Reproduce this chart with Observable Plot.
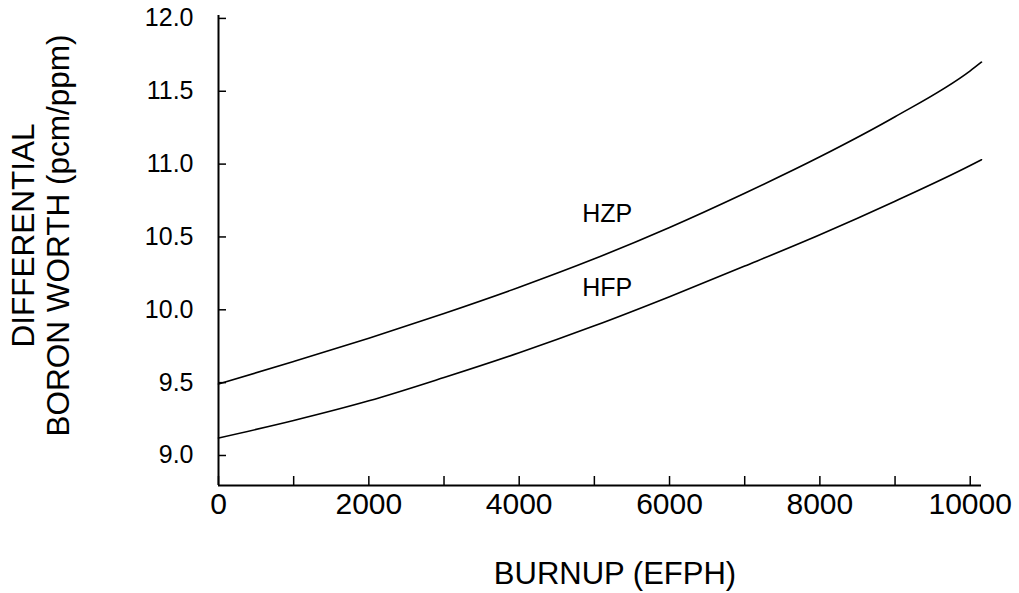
<!DOCTYPE html>
<html><head><meta charset="utf-8">
<script src="https://cdn.jsdelivr.net/npm/d3@7"></script>
<script src="https://cdn.jsdelivr.net/npm/@observablehq/plot@0.6"></script>
<style>body{margin:0;background:#fff}</style>
</head><body><div id="chart"></div>
<script>
// Data
const burnup = [0, 1000, 2000, 3000, 4000, 5000, 6000, 7000, 8000, 9000, 10000, 10150];
const hzp    = [9.49, 9.645, 9.805, 9.975, 10.155, 10.35, 10.565, 10.80, 11.05, 11.325, 11.64, 11.70];
const hfp    = [9.12, 9.24, 9.375, 9.535, 9.705, 9.89, 10.09, 10.30, 10.515, 10.745, 10.99, 11.03];
const seriesNames = ["HZP", "HFP"];
const seriesLabelX = [5170, 5170];
const seriesLabelY = [10.66, 10.15];
const xTicks = [0, 1000, 2000, 3000, 4000, 5000, 6000, 7000, 8000, 9000, 10000];
const xTickLabels = [0, 2000, 4000, 6000, 8000, 10000];
const yTicks = [9.0, 9.5, 10.0, 10.5, 11.0, 11.5, 12.0];
const xDomain = [0, 10150];
const yDomain = [8.794, 12.02];
const xTitle = "BURNUP (EFPH)";
const yTitle = "DIFFERENTIAL\nBORON WORTH (pcm/ppm)";

const rows = [];
burnup.forEach((b, i) => {
  rows.push({series: "HZP", x: b, y: hzp[i]});
  rows.push({series: "HFP", x: b, y: hfp[i]});
});
const labels = seriesNames.map((s, i) => ({text: s, x: seriesLabelX[i], y: seriesLabelY[i]}));

const font = "'Liberation Sans', Arial, Helvetica, sans-serif";

const chart = Plot.plot({
  width: 1019,
  height: 593,
  marginLeft: 218,
  marginRight: 38,
  marginTop: 15,
  marginBottom: 108,
  style: {fontFamily: font, background: "#fff", color: "#000", overflow: "visible"},
  x: {domain: xDomain},
  y: {domain: yDomain},
  marks: [
    // inward ticks
    Plot.axisY(yTicks, {tickSize: 8, dx: 8, tickFormat: () => "", label: null, strokeWidth: 1.5}),
    Plot.axisX(xTicks, {tickSize: 9, dy: -9, tickFormat: () => "", label: null, strokeWidth: 1.5}),
    // tick labels
    Plot.axisY(yTicks, {tickSize: 0, tickPadding: 25, tickFormat: d3.format(".1f"), fontSize: 25, label: null}),
    Plot.axisX(xTickLabels, {tickSize: 0, tickPadding: 7, tickFormat: d => String(d), fontSize: 30, label: null}),
    // axis lines
    Plot.ruleX([xDomain[0]], {stroke: "#000", strokeWidth: 2}),
    Plot.ruleY([yDomain[0]], {stroke: "#000", strokeWidth: 2}),
    // curves
    Plot.line(rows, {x: "x", y: "y", z: "series", stroke: "#000", strokeWidth: 1.6, curve: "monotone-x"}),
    // series labels
    Plot.text(labels, {x: "x", y: "y", text: "text", fontSize: 25, fill: "#000"}),
    // axis titles
    Plot.text([xTitle], {frameAnchor: "bottom", dx: 15, dy: 89, fontSize: 31, fill: "#000", textAnchor: "middle", lineAnchor: "middle"}),
    Plot.text([yTitle], {frameAnchor: "left", dx: -178, dy: -15, rotate: -90, fontSize: 31.5, lineHeight: 1.12, fill: "#000", textAnchor: "middle", lineAnchor: "middle"})
  ]
});
document.getElementById("chart").appendChild(chart);
</script>
</body></html>
